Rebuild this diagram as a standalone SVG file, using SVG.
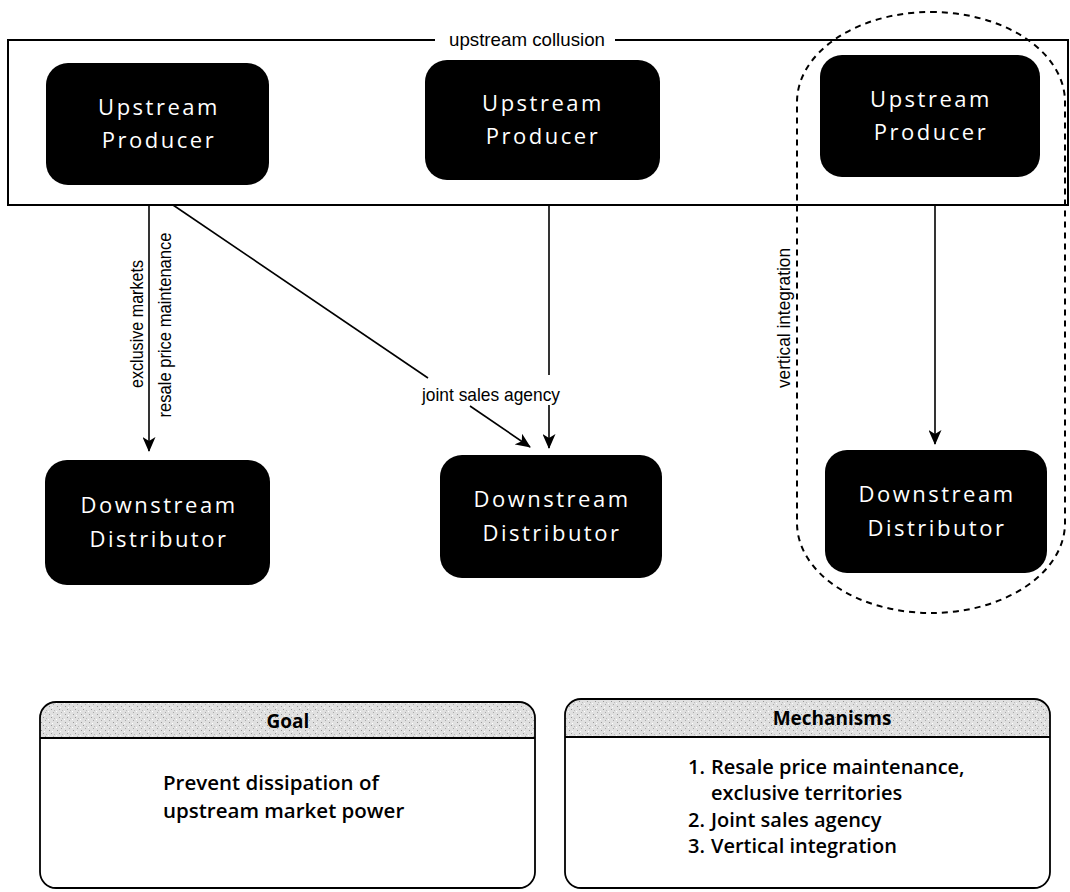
<svg xmlns="http://www.w3.org/2000/svg" width="1070" height="892" viewBox="0 0 1070 892">
<style>
.node{fill:#000}
.nt{fill:#fff;font-family:"Open Sans","Noto Sans",sans-serif;font-size:22px;letter-spacing:2.5px;text-anchor:middle}
.lbl{fill:#000;font-family:"Liberation Sans Narrow","Liberation Sans",sans-serif;font-size:19px;text-anchor:middle}
.conn{stroke:#000;stroke-width:1.6;fill:none}
.frame{stroke:#000;stroke-width:2;fill:none}
.box{fill:none;stroke:#000;stroke-width:1.8}
.hdr{font-family:"Open Sans","Noto Sans",sans-serif;font-weight:700;font-size:19px;text-anchor:middle;fill:#000}
.body{font-family:"Open Sans","Noto Sans",sans-serif;font-weight:600;font-size:20px;fill:#000}
</style>
<defs>
<marker id="arr" viewBox="0 0 15 13" refX="14" refY="6.5" markerWidth="15" markerHeight="13" markerUnits="userSpaceOnUse" orient="auto">
<path d="M0,0 L15,6.5 L0,13 L4,6.5 z" fill="#000"/>
</marker>
<pattern id="stip" width="8" height="8" patternUnits="userSpaceOnUse">
<rect width="8" height="8" fill="#e0e0e0"/>
<rect x="1" y="2" width="1" height="1" fill="#999"/>
<rect x="5" y="0" width="1" height="1" fill="#aaa"/>
<rect x="3" y="5" width="1" height="1" fill="#999"/>
<rect x="6" y="6" width="1" height="1" fill="#bbb"/>
<rect x="0" y="7" width="1" height="1" fill="#fff"/>
<rect x="4" y="3" width="1" height="1" fill="#fff"/>
</pattern>
</defs>

<g id="collusion-frame">
<path class="frame" d="M435,40 L8,40 L8,205 L1068,205 L1068,40 L615,40"/>
<text class="lbl" x="527" y="46" textLength="156" lengthAdjust="spacingAndGlyphs">upstream collusion</text>
</g>

<g id="integration-outline">
<rect x="797" y="12" width="268" height="601" rx="134" ry="90" fill="none" stroke="#000" stroke-width="2" stroke-dasharray="6 5"/>
</g>

<g id="connectors">
<line class="conn" x1="149" y1="205" x2="149" y2="451" marker-end="url(#arr)"/>
<line class="conn" x1="173" y1="205" x2="428" y2="378"/>
<line class="conn" x1="470" y1="406" x2="530" y2="447" marker-end="url(#arr)"/>
<line class="conn" x1="549" y1="205" x2="549" y2="375"/>
<line class="conn" x1="549" y1="405" x2="549" y2="448" marker-end="url(#arr)"/>
<line class="conn" x1="935" y1="205" x2="935" y2="444" marker-end="url(#arr)"/>
<text class="lbl" transform="translate(143,324) rotate(-90)" textLength="128" lengthAdjust="spacingAndGlyphs">exclusive markets</text>
<text class="lbl" transform="translate(171,325) rotate(-90)" textLength="185" lengthAdjust="spacingAndGlyphs">resale price maintenance</text>
<text class="lbl" x="491" y="401" textLength="138" lengthAdjust="spacingAndGlyphs">joint sales agency</text>
<text class="lbl" transform="translate(790,318) rotate(-90)" textLength="140" lengthAdjust="spacingAndGlyphs">vertical integration</text>
</g>

<g id="up1">
<rect class="node" x="46" y="63" width="223" height="122" rx="22"/>
<text class="nt" x="159" y="115">Upstream</text>
<text class="nt" x="159" y="148">Producer</text>
</g>
<g id="up2">
<rect class="node" x="425" y="60" width="235" height="120" rx="22"/>
<text class="nt" x="543" y="111">Upstream</text>
<text class="nt" x="543" y="144">Producer</text>
</g>
<g id="up3">
<rect class="node" x="820" y="55" width="220" height="122" rx="22"/>
<text class="nt" x="931" y="107">Upstream</text>
<text class="nt" x="931" y="140">Producer</text>
</g>

<g id="down1">
<rect class="node" x="45" y="460" width="225" height="125" rx="22"/>
<text class="nt" x="159" y="513">Downstream</text>
<text class="nt" x="159" y="547">Distributor</text>
</g>
<g id="down2">
<rect class="node" x="440" y="455" width="222" height="123" rx="22"/>
<text class="nt" x="552" y="507">Downstream</text>
<text class="nt" x="552" y="541">Distributor</text>
</g>
<g id="down3">
<rect class="node" x="825" y="450" width="222" height="123" rx="22"/>
<text class="nt" x="937" y="502">Downstream</text>
<text class="nt" x="937" y="536">Distributor</text>
</g>

<g id="goal">
<path d="M40,738 L40,718 Q40,702 56,702 L519,702 Q535,702 535,718 L535,738 Z" fill="url(#stip)"/>
<rect class="box" x="40" y="702" width="495" height="186" rx="16"/>
<line x1="40" y1="738" x2="535" y2="738" stroke="#000" stroke-width="1.8"/>
<text class="hdr" x="288" y="728">Goal</text>
<text class="body" x="163" y="790" style="font-size:20.5px">Prevent dissipation of</text>
<text class="body" x="163" y="818" style="font-size:20.5px">upstream market power</text>
</g>

<g id="mechanisms">
<path d="M565,737 L565,715 Q565,699 581,699 L1034,699 Q1050,699 1050,715 L1050,737 Z" fill="url(#stip)"/>
<rect class="box" x="565" y="699" width="485" height="189" rx="16"/>
<line x1="565" y1="737" x2="1050" y2="737" stroke="#000" stroke-width="1.8"/>
<text class="hdr" x="832" y="725">Mechanisms</text>
<text class="body" x="688" y="774">1.</text>
<text class="body" x="711" y="774">Resale price maintenance,</text>
<text class="body" x="711" y="800">exclusive territories</text>
<text class="body" x="688" y="827">2.</text>
<text class="body" x="711" y="827">Joint sales agency</text>
<text class="body" x="688" y="853">3.</text>
<text class="body" x="711" y="853">Vertical integration</text>
</g>
</svg>
